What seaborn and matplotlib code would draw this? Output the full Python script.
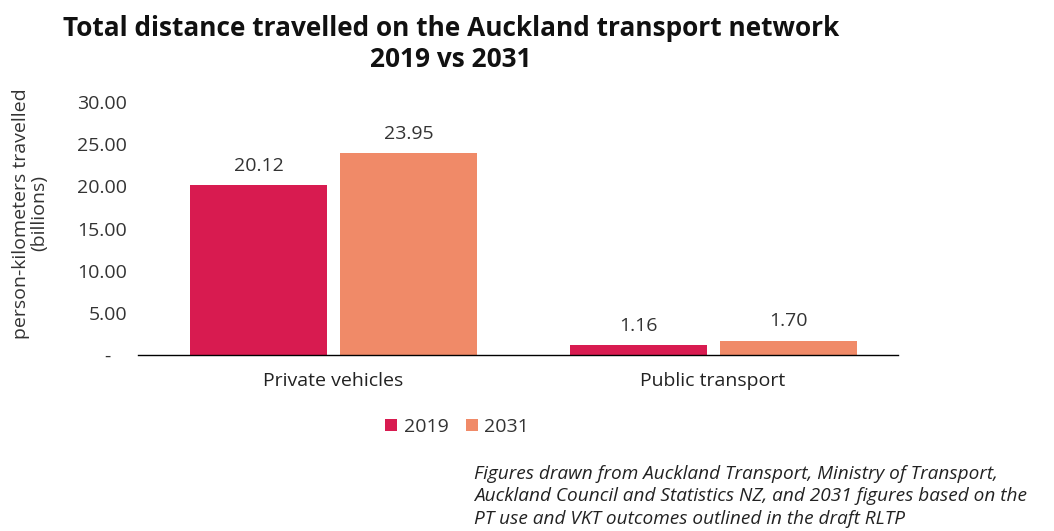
import matplotlib
matplotlib.use("Agg")
import matplotlib.pyplot as plt
import seaborn as sns
import pandas as pd
from matplotlib.ticker import FuncFormatter, MultipleLocator

categories = ["Private vehicles", "Public transport"]
years = ["2019", "2031"]
values_2019 = [20.12, 1.16]
values_2031 = [23.95, 1.70]
colors = ["#D81B50", "#F08A68"]

df = pd.DataFrame({
    "category": categories * 2,
    "year": [years[0]] * 2 + [years[1]] * 2,
    "value": values_2019 + values_2031,
})

sns.set_style("white")
plt.rcParams["font.family"] = ["Open Sans", "DejaVu Sans"]

FS = 14
fig = plt.figure(figsize=(10.54, 5.31), dpi=100)
ax = fig.add_axes([138 / 1054, 1 - 355 / 531, 760 / 1054, 253 / 531])

sns.barplot(data=df, x="category", y="value", hue="year", hue_order=years,
            palette=colors, width=0.79, gap=0.087, ax=ax, saturation=1,
            edgecolor="none", legend=True)

for cont in ax.containers:
    ax.bar_label(cont, fmt="%.2f", padding=7.5, fontsize=FS, color="#333333")

ax.set_xlim(-0.515, 1.487)
ax.set_ylim(0, 30)
ax.yaxis.set_major_locator(MultipleLocator(5))
ax.yaxis.set_major_formatter(FuncFormatter(lambda v, p: "-   " if abs(v) < 1e-9 else f"{v:.2f}"))
ax.tick_params(axis="y", length=0, labelsize=FS, labelcolor="#333333", pad=8)
ax.tick_params(axis="x", length=0, labelsize=FS, labelcolor="#222222", pad=12)
ax.set_xlabel("")
ax.set_ylabel("person-kilometers travelled\n(billions)", fontsize=FS, color="#333333", linespacing=1.0)
ax.yaxis.set_label_coords(-0.118, 0.56)

for s in ["top", "right", "left"]:
    ax.spines[s].set_visible(False)
ax.spines["bottom"].set_color("black")
ax.spines["bottom"].set_linewidth(1.0)

leg = ax.legend(loc="upper center", bbox_to_anchor=(0.42, -0.18), ncol=2, frameon=False,
                fontsize=FS, handlelength=0.6, handleheight=0.6, handletextpad=0.35,
                columnspacing=0.9)
for t in leg.get_texts():
    t.set_color("#333333")

fig.text(0.428, 1 - 44 / 531, "Total distance travelled on the Auckland transport network\n2019 vs 2031",
         ha="center", va="center", fontsize=18.9, fontweight="bold", color="#111111", linespacing=1.2)

fig.text(474 / 1054, 0.006, "Figures drawn from Auckland Transport, Ministry of Transport,\n"
         "Auckland Council and Statistics NZ, and 2031 figures based on the\n"
         "PT use and VKT outcomes outlined in the draft RLTP",
         ha="left", va="bottom", fontsize=13.7, style="italic", color="#222222", linespacing=1.33)

fig.savefig("out.png", dpi=100, facecolor="white")
